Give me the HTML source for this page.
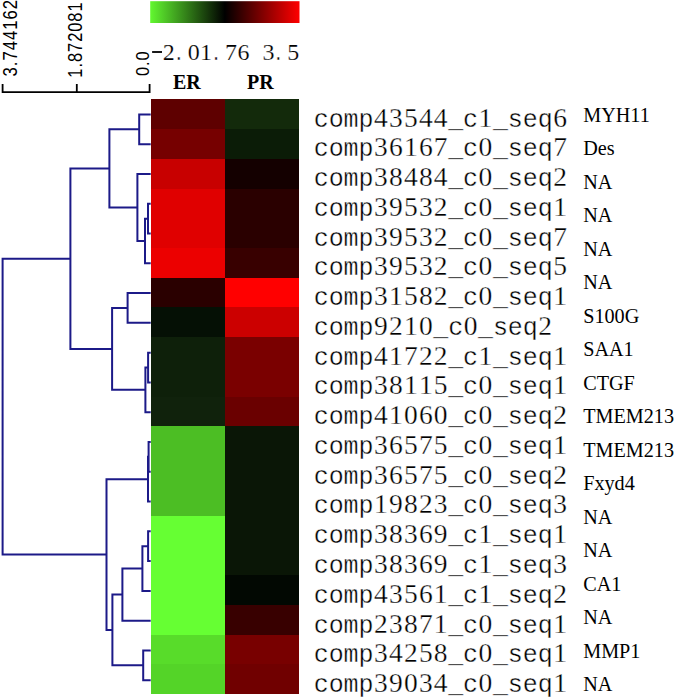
<!DOCTYPE html>
<html><head><meta charset="utf-8"><style>
html,body{margin:0;padding:0;background:#fff;}
svg{display:block;}
.mt{font-family:"Liberation Mono",monospace;font-size:25.0px;fill:#000;stroke:#fff;stroke-width:0.35px;}
.dt{font-family:"Liberation Serif",serif;font-size:27.5px;fill:#000;stroke:#fff;stroke-width:0.3px;}
.lm{font-family:"Liberation Mono",monospace;font-size:20.2px;fill:#000;stroke:#fff;stroke-width:0.5px;}
.ld{font-family:"Liberation Serif",serif;font-size:24px;fill:#000;stroke:#fff;stroke-width:0.2px;}
.g{font-family:"Liberation Serif",serif;font-size:20.2px;fill:#000;}
.h{font-family:"Liberation Serif",serif;font-size:20px;font-weight:bold;fill:#000;}
.z{font-family:"Liberation Serif",serif;font-size:19.3px;fill:#000;stroke:#fff;stroke-width:0.3px;}
.s{font-family:"Liberation Sans",sans-serif;font-size:17px;letter-spacing:1px;fill:#000;}
</style></head><body>
<svg width="675" height="699" viewBox="0 0 675 699">
<defs><linearGradient id="cb" x1="0" x2="1" y1="0" y2="0">
<stop offset="0" stop-color="#62f830"/><stop offset="0.5" stop-color="#000"/><stop offset="1" stop-color="#ff0000"/>
</linearGradient></defs>
<rect x="150.2" y="1.2" width="149.3" height="21.8" fill="url(#cb)"/>
<text y="59.80"><tspan class="lm" x="147.76"></tspan><tspan class="ld" x="162.77">2</tspan><tspan class="lm" x="172.66">.</tspan><tspan class="ld" x="187.67">0</tspan><tspan class="ld" x="200.12">1</tspan><tspan class="lm" x="210.01">.</tspan><tspan class="ld" x="225.02">7</tspan><tspan class="ld" x="237.47">6</tspan><tspan class="ld" x="262.38">3</tspan><tspan class="lm" x="272.27">.</tspan><tspan class="ld" x="287.27">5</tspan></text>
<text class="h" x="173" y="88.8">ER</text>
<text class="h" x="247" y="88.8">PR</text>
<path d="M2.6,84V92.1H149.6V84M76.8,84V92.1" fill="none" stroke="#000" stroke-width="1.8"/>
<text class="s" transform="translate(17,76.5) rotate(-90) scale(0.984,1.15)">3.744162</text>
<text class="s" transform="translate(82.4,77.7) rotate(-90) scale(0.967,1.15)">1.872081</text>
<text class="s" transform="translate(148.8,76) rotate(-90) scale(0.96,1.1)">0.0</text>
<rect x="152.1" y="51.1" width="9.9" height="1.8" fill="#000"/>
<g shape-rendering="crispEdges"><rect x="150.7" y="99.30" width="148.60" height="30.73" fill="#5e0000"/><rect x="150.7" y="129.03" width="148.60" height="30.73" fill="#760000"/><rect x="150.7" y="158.77" width="148.60" height="30.73" fill="#c80000"/><rect x="150.7" y="188.50" width="148.60" height="30.73" fill="#e00000"/><rect x="150.7" y="218.24" width="148.60" height="30.73" fill="#e00000"/><rect x="150.7" y="247.98" width="148.60" height="30.73" fill="#ec0000"/><rect x="150.7" y="277.71" width="148.60" height="30.73" fill="#2a0000"/><rect x="150.7" y="307.44" width="148.60" height="30.73" fill="#051005"/><rect x="150.7" y="337.18" width="148.60" height="30.73" fill="#0e200a"/><rect x="150.7" y="366.92" width="148.60" height="30.73" fill="#0e200a"/><rect x="150.7" y="396.65" width="148.60" height="30.73" fill="#10220c"/><rect x="150.7" y="426.38" width="148.60" height="30.73" fill="#4cbe24"/><rect x="150.7" y="456.12" width="148.60" height="30.73" fill="#4cbe24"/><rect x="150.7" y="485.86" width="148.60" height="30.73" fill="#4cbe24"/><rect x="150.7" y="515.59" width="148.60" height="30.73" fill="#66ff33"/><rect x="150.7" y="545.32" width="148.60" height="30.73" fill="#66ff33"/><rect x="150.7" y="575.06" width="148.60" height="30.73" fill="#66ff33"/><rect x="150.7" y="604.79" width="148.60" height="30.73" fill="#66ff33"/><rect x="150.7" y="634.53" width="148.60" height="30.73" fill="#58dc2a"/><rect x="150.7" y="664.26" width="148.60" height="29.73" fill="#54d428"/><rect x="224.6" y="99.30" width="74.70" height="30.73" fill="#132a0b"/><rect x="224.6" y="129.03" width="74.70" height="30.73" fill="#0b1c07"/><rect x="224.6" y="158.77" width="74.70" height="30.73" fill="#140000"/><rect x="224.6" y="188.50" width="74.70" height="30.73" fill="#2a0000"/><rect x="224.6" y="218.24" width="74.70" height="30.73" fill="#2a0000"/><rect x="224.6" y="247.98" width="74.70" height="30.73" fill="#380000"/><rect x="224.6" y="277.71" width="74.70" height="30.73" fill="#ff0000"/><rect x="224.6" y="307.44" width="74.70" height="30.73" fill="#cc0000"/><rect x="224.6" y="337.18" width="74.70" height="30.73" fill="#7a0000"/><rect x="224.6" y="366.92" width="74.70" height="30.73" fill="#7a0000"/><rect x="224.6" y="396.65" width="74.70" height="30.73" fill="#6a0000"/><rect x="224.6" y="426.38" width="74.70" height="30.73" fill="#0a1606"/><rect x="224.6" y="456.12" width="74.70" height="30.73" fill="#0a1606"/><rect x="224.6" y="485.86" width="74.70" height="30.73" fill="#0a1606"/><rect x="224.6" y="515.59" width="74.70" height="30.73" fill="#0a1606"/><rect x="224.6" y="545.32" width="74.70" height="30.73" fill="#0a1606"/><rect x="224.6" y="575.06" width="74.70" height="30.73" fill="#020802"/><rect x="224.6" y="604.79" width="74.70" height="30.73" fill="#380000"/><rect x="224.6" y="634.53" width="74.70" height="30.73" fill="#780000"/><rect x="224.6" y="664.26" width="74.70" height="29.73" fill="#700000"/></g>
<path d="M150.70,114.40H139.20V144.18H150.70M150.70,203.74H148.00V233.52H150.70M148.00,218.63H145.00V263.30H150.70M150.70,173.96H137.40V240.97H145.00M139.20,129.29H109.40V207.46H137.40M150.70,293.08H127.60V322.86H150.70M150.70,352.64H148.10V382.42H150.70M148.10,367.53H145.40V412.20H150.70M127.60,307.97H112.10V389.87H145.40M109.40,168.38H70.40V348.92H112.10M150.70,441.98H148.60V471.76H150.70M148.60,456.87H148.00V501.54H150.70M150.70,531.32H148.10V561.10H150.70M148.10,546.21H142.40V590.88H150.70M142.40,568.55H122.40V620.66H150.70M150.70,650.44H143.20V680.22H150.70M122.40,594.60H112.40V665.33H143.20M148.00,479.20H106.50V629.97H112.40M70.40,258.65H2.60V554.59H106.50" fill="none" stroke="#1c1a88" stroke-width="2"/>
<text y="126.60"><tspan class="mt" x="313.76">c</tspan><tspan class="mt" x="328.69">o</tspan><tspan class="mt" x="343.62">m</tspan><tspan class="mt" x="358.56">p</tspan><tspan class="dt" x="374.11">4</tspan><tspan class="dt" x="389.04">3</tspan><tspan class="dt" x="403.97">5</tspan><tspan class="dt" x="418.90">4</tspan><tspan class="dt" x="433.83">4</tspan><tspan class="mt" x="448.13">_</tspan><tspan class="mt" x="463.06">c</tspan><tspan class="dt" x="478.62">1</tspan><tspan class="mt" x="492.93">_</tspan><tspan class="mt" x="507.85">s</tspan><tspan class="mt" x="522.78">e</tspan><tspan class="mt" x="537.72">q</tspan><tspan class="dt" x="553.27">6</tspan></text><text y="156.36"><tspan class="mt" x="313.76">c</tspan><tspan class="mt" x="328.69">o</tspan><tspan class="mt" x="343.62">m</tspan><tspan class="mt" x="358.56">p</tspan><tspan class="dt" x="374.11">3</tspan><tspan class="dt" x="389.04">6</tspan><tspan class="dt" x="403.97">1</tspan><tspan class="dt" x="418.90">6</tspan><tspan class="dt" x="433.83">7</tspan><tspan class="mt" x="448.13">_</tspan><tspan class="mt" x="463.06">c</tspan><tspan class="dt" x="478.62">0</tspan><tspan class="mt" x="492.93">_</tspan><tspan class="mt" x="507.85">s</tspan><tspan class="mt" x="522.78">e</tspan><tspan class="mt" x="537.72">q</tspan><tspan class="dt" x="553.27">7</tspan></text><text y="186.12"><tspan class="mt" x="313.76">c</tspan><tspan class="mt" x="328.69">o</tspan><tspan class="mt" x="343.62">m</tspan><tspan class="mt" x="358.56">p</tspan><tspan class="dt" x="374.11">3</tspan><tspan class="dt" x="389.04">8</tspan><tspan class="dt" x="403.97">4</tspan><tspan class="dt" x="418.90">8</tspan><tspan class="dt" x="433.83">4</tspan><tspan class="mt" x="448.13">_</tspan><tspan class="mt" x="463.06">c</tspan><tspan class="dt" x="478.62">0</tspan><tspan class="mt" x="492.93">_</tspan><tspan class="mt" x="507.85">s</tspan><tspan class="mt" x="522.78">e</tspan><tspan class="mt" x="537.72">q</tspan><tspan class="dt" x="553.27">2</tspan></text><text y="215.88"><tspan class="mt" x="313.76">c</tspan><tspan class="mt" x="328.69">o</tspan><tspan class="mt" x="343.62">m</tspan><tspan class="mt" x="358.56">p</tspan><tspan class="dt" x="374.11">3</tspan><tspan class="dt" x="389.04">9</tspan><tspan class="dt" x="403.97">5</tspan><tspan class="dt" x="418.90">3</tspan><tspan class="dt" x="433.83">2</tspan><tspan class="mt" x="448.13">_</tspan><tspan class="mt" x="463.06">c</tspan><tspan class="dt" x="478.62">0</tspan><tspan class="mt" x="492.93">_</tspan><tspan class="mt" x="507.85">s</tspan><tspan class="mt" x="522.78">e</tspan><tspan class="mt" x="537.72">q</tspan><tspan class="dt" x="553.27">1</tspan></text><text y="245.64"><tspan class="mt" x="313.76">c</tspan><tspan class="mt" x="328.69">o</tspan><tspan class="mt" x="343.62">m</tspan><tspan class="mt" x="358.56">p</tspan><tspan class="dt" x="374.11">3</tspan><tspan class="dt" x="389.04">9</tspan><tspan class="dt" x="403.97">5</tspan><tspan class="dt" x="418.90">3</tspan><tspan class="dt" x="433.83">2</tspan><tspan class="mt" x="448.13">_</tspan><tspan class="mt" x="463.06">c</tspan><tspan class="dt" x="478.62">0</tspan><tspan class="mt" x="492.93">_</tspan><tspan class="mt" x="507.85">s</tspan><tspan class="mt" x="522.78">e</tspan><tspan class="mt" x="537.72">q</tspan><tspan class="dt" x="553.27">7</tspan></text><text y="275.40"><tspan class="mt" x="313.76">c</tspan><tspan class="mt" x="328.69">o</tspan><tspan class="mt" x="343.62">m</tspan><tspan class="mt" x="358.56">p</tspan><tspan class="dt" x="374.11">3</tspan><tspan class="dt" x="389.04">9</tspan><tspan class="dt" x="403.97">5</tspan><tspan class="dt" x="418.90">3</tspan><tspan class="dt" x="433.83">2</tspan><tspan class="mt" x="448.13">_</tspan><tspan class="mt" x="463.06">c</tspan><tspan class="dt" x="478.62">0</tspan><tspan class="mt" x="492.93">_</tspan><tspan class="mt" x="507.85">s</tspan><tspan class="mt" x="522.78">e</tspan><tspan class="mt" x="537.72">q</tspan><tspan class="dt" x="553.27">5</tspan></text><text y="305.16"><tspan class="mt" x="313.76">c</tspan><tspan class="mt" x="328.69">o</tspan><tspan class="mt" x="343.62">m</tspan><tspan class="mt" x="358.56">p</tspan><tspan class="dt" x="374.11">3</tspan><tspan class="dt" x="389.04">1</tspan><tspan class="dt" x="403.97">5</tspan><tspan class="dt" x="418.90">8</tspan><tspan class="dt" x="433.83">2</tspan><tspan class="mt" x="448.13">_</tspan><tspan class="mt" x="463.06">c</tspan><tspan class="dt" x="478.62">0</tspan><tspan class="mt" x="492.93">_</tspan><tspan class="mt" x="507.85">s</tspan><tspan class="mt" x="522.78">e</tspan><tspan class="mt" x="537.72">q</tspan><tspan class="dt" x="553.27">1</tspan></text><text y="334.92"><tspan class="mt" x="313.76">c</tspan><tspan class="mt" x="328.69">o</tspan><tspan class="mt" x="343.62">m</tspan><tspan class="mt" x="358.56">p</tspan><tspan class="dt" x="374.11">9</tspan><tspan class="dt" x="389.04">2</tspan><tspan class="dt" x="403.97">1</tspan><tspan class="dt" x="418.90">0</tspan><tspan class="mt" x="433.20">_</tspan><tspan class="mt" x="448.13">c</tspan><tspan class="dt" x="463.69">0</tspan><tspan class="mt" x="477.99">_</tspan><tspan class="mt" x="492.93">s</tspan><tspan class="mt" x="507.85">e</tspan><tspan class="mt" x="522.78">q</tspan><tspan class="dt" x="538.34">2</tspan></text><text y="364.68"><tspan class="mt" x="313.76">c</tspan><tspan class="mt" x="328.69">o</tspan><tspan class="mt" x="343.62">m</tspan><tspan class="mt" x="358.56">p</tspan><tspan class="dt" x="374.11">4</tspan><tspan class="dt" x="389.04">1</tspan><tspan class="dt" x="403.97">7</tspan><tspan class="dt" x="418.90">2</tspan><tspan class="dt" x="433.83">2</tspan><tspan class="mt" x="448.13">_</tspan><tspan class="mt" x="463.06">c</tspan><tspan class="dt" x="478.62">1</tspan><tspan class="mt" x="492.93">_</tspan><tspan class="mt" x="507.85">s</tspan><tspan class="mt" x="522.78">e</tspan><tspan class="mt" x="537.72">q</tspan><tspan class="dt" x="553.27">1</tspan></text><text y="394.44"><tspan class="mt" x="313.76">c</tspan><tspan class="mt" x="328.69">o</tspan><tspan class="mt" x="343.62">m</tspan><tspan class="mt" x="358.56">p</tspan><tspan class="dt" x="374.11">3</tspan><tspan class="dt" x="389.04">8</tspan><tspan class="dt" x="403.97">1</tspan><tspan class="dt" x="418.90">1</tspan><tspan class="dt" x="433.83">5</tspan><tspan class="mt" x="448.13">_</tspan><tspan class="mt" x="463.06">c</tspan><tspan class="dt" x="478.62">0</tspan><tspan class="mt" x="492.93">_</tspan><tspan class="mt" x="507.85">s</tspan><tspan class="mt" x="522.78">e</tspan><tspan class="mt" x="537.72">q</tspan><tspan class="dt" x="553.27">1</tspan></text><text y="424.20"><tspan class="mt" x="313.76">c</tspan><tspan class="mt" x="328.69">o</tspan><tspan class="mt" x="343.62">m</tspan><tspan class="mt" x="358.56">p</tspan><tspan class="dt" x="374.11">4</tspan><tspan class="dt" x="389.04">1</tspan><tspan class="dt" x="403.97">0</tspan><tspan class="dt" x="418.90">6</tspan><tspan class="dt" x="433.83">0</tspan><tspan class="mt" x="448.13">_</tspan><tspan class="mt" x="463.06">c</tspan><tspan class="dt" x="478.62">0</tspan><tspan class="mt" x="492.93">_</tspan><tspan class="mt" x="507.85">s</tspan><tspan class="mt" x="522.78">e</tspan><tspan class="mt" x="537.72">q</tspan><tspan class="dt" x="553.27">2</tspan></text><text y="453.96"><tspan class="mt" x="313.76">c</tspan><tspan class="mt" x="328.69">o</tspan><tspan class="mt" x="343.62">m</tspan><tspan class="mt" x="358.56">p</tspan><tspan class="dt" x="374.11">3</tspan><tspan class="dt" x="389.04">6</tspan><tspan class="dt" x="403.97">5</tspan><tspan class="dt" x="418.90">7</tspan><tspan class="dt" x="433.83">5</tspan><tspan class="mt" x="448.13">_</tspan><tspan class="mt" x="463.06">c</tspan><tspan class="dt" x="478.62">0</tspan><tspan class="mt" x="492.93">_</tspan><tspan class="mt" x="507.85">s</tspan><tspan class="mt" x="522.78">e</tspan><tspan class="mt" x="537.72">q</tspan><tspan class="dt" x="553.27">1</tspan></text><text y="483.72"><tspan class="mt" x="313.76">c</tspan><tspan class="mt" x="328.69">o</tspan><tspan class="mt" x="343.62">m</tspan><tspan class="mt" x="358.56">p</tspan><tspan class="dt" x="374.11">3</tspan><tspan class="dt" x="389.04">6</tspan><tspan class="dt" x="403.97">5</tspan><tspan class="dt" x="418.90">7</tspan><tspan class="dt" x="433.83">5</tspan><tspan class="mt" x="448.13">_</tspan><tspan class="mt" x="463.06">c</tspan><tspan class="dt" x="478.62">0</tspan><tspan class="mt" x="492.93">_</tspan><tspan class="mt" x="507.85">s</tspan><tspan class="mt" x="522.78">e</tspan><tspan class="mt" x="537.72">q</tspan><tspan class="dt" x="553.27">2</tspan></text><text y="513.48"><tspan class="mt" x="313.76">c</tspan><tspan class="mt" x="328.69">o</tspan><tspan class="mt" x="343.62">m</tspan><tspan class="mt" x="358.56">p</tspan><tspan class="dt" x="374.11">1</tspan><tspan class="dt" x="389.04">9</tspan><tspan class="dt" x="403.97">8</tspan><tspan class="dt" x="418.90">2</tspan><tspan class="dt" x="433.83">3</tspan><tspan class="mt" x="448.13">_</tspan><tspan class="mt" x="463.06">c</tspan><tspan class="dt" x="478.62">0</tspan><tspan class="mt" x="492.93">_</tspan><tspan class="mt" x="507.85">s</tspan><tspan class="mt" x="522.78">e</tspan><tspan class="mt" x="537.72">q</tspan><tspan class="dt" x="553.27">3</tspan></text><text y="543.24"><tspan class="mt" x="313.76">c</tspan><tspan class="mt" x="328.69">o</tspan><tspan class="mt" x="343.62">m</tspan><tspan class="mt" x="358.56">p</tspan><tspan class="dt" x="374.11">3</tspan><tspan class="dt" x="389.04">8</tspan><tspan class="dt" x="403.97">3</tspan><tspan class="dt" x="418.90">6</tspan><tspan class="dt" x="433.83">9</tspan><tspan class="mt" x="448.13">_</tspan><tspan class="mt" x="463.06">c</tspan><tspan class="dt" x="478.62">1</tspan><tspan class="mt" x="492.93">_</tspan><tspan class="mt" x="507.85">s</tspan><tspan class="mt" x="522.78">e</tspan><tspan class="mt" x="537.72">q</tspan><tspan class="dt" x="553.27">1</tspan></text><text y="573.00"><tspan class="mt" x="313.76">c</tspan><tspan class="mt" x="328.69">o</tspan><tspan class="mt" x="343.62">m</tspan><tspan class="mt" x="358.56">p</tspan><tspan class="dt" x="374.11">3</tspan><tspan class="dt" x="389.04">8</tspan><tspan class="dt" x="403.97">3</tspan><tspan class="dt" x="418.90">6</tspan><tspan class="dt" x="433.83">9</tspan><tspan class="mt" x="448.13">_</tspan><tspan class="mt" x="463.06">c</tspan><tspan class="dt" x="478.62">1</tspan><tspan class="mt" x="492.93">_</tspan><tspan class="mt" x="507.85">s</tspan><tspan class="mt" x="522.78">e</tspan><tspan class="mt" x="537.72">q</tspan><tspan class="dt" x="553.27">3</tspan></text><text y="602.76"><tspan class="mt" x="313.76">c</tspan><tspan class="mt" x="328.69">o</tspan><tspan class="mt" x="343.62">m</tspan><tspan class="mt" x="358.56">p</tspan><tspan class="dt" x="374.11">4</tspan><tspan class="dt" x="389.04">3</tspan><tspan class="dt" x="403.97">5</tspan><tspan class="dt" x="418.90">6</tspan><tspan class="dt" x="433.83">1</tspan><tspan class="mt" x="448.13">_</tspan><tspan class="mt" x="463.06">c</tspan><tspan class="dt" x="478.62">1</tspan><tspan class="mt" x="492.93">_</tspan><tspan class="mt" x="507.85">s</tspan><tspan class="mt" x="522.78">e</tspan><tspan class="mt" x="537.72">q</tspan><tspan class="dt" x="553.27">2</tspan></text><text y="632.52"><tspan class="mt" x="313.76">c</tspan><tspan class="mt" x="328.69">o</tspan><tspan class="mt" x="343.62">m</tspan><tspan class="mt" x="358.56">p</tspan><tspan class="dt" x="374.11">2</tspan><tspan class="dt" x="389.04">3</tspan><tspan class="dt" x="403.97">8</tspan><tspan class="dt" x="418.90">7</tspan><tspan class="dt" x="433.83">1</tspan><tspan class="mt" x="448.13">_</tspan><tspan class="mt" x="463.06">c</tspan><tspan class="dt" x="478.62">0</tspan><tspan class="mt" x="492.93">_</tspan><tspan class="mt" x="507.85">s</tspan><tspan class="mt" x="522.78">e</tspan><tspan class="mt" x="537.72">q</tspan><tspan class="dt" x="553.27">1</tspan></text><text y="662.28"><tspan class="mt" x="313.76">c</tspan><tspan class="mt" x="328.69">o</tspan><tspan class="mt" x="343.62">m</tspan><tspan class="mt" x="358.56">p</tspan><tspan class="dt" x="374.11">3</tspan><tspan class="dt" x="389.04">4</tspan><tspan class="dt" x="403.97">2</tspan><tspan class="dt" x="418.90">5</tspan><tspan class="dt" x="433.83">8</tspan><tspan class="mt" x="448.13">_</tspan><tspan class="mt" x="463.06">c</tspan><tspan class="dt" x="478.62">0</tspan><tspan class="mt" x="492.93">_</tspan><tspan class="mt" x="507.85">s</tspan><tspan class="mt" x="522.78">e</tspan><tspan class="mt" x="537.72">q</tspan><tspan class="dt" x="553.27">1</tspan></text><text y="692.04"><tspan class="mt" x="313.76">c</tspan><tspan class="mt" x="328.69">o</tspan><tspan class="mt" x="343.62">m</tspan><tspan class="mt" x="358.56">p</tspan><tspan class="dt" x="374.11">3</tspan><tspan class="dt" x="389.04">9</tspan><tspan class="dt" x="403.97">0</tspan><tspan class="dt" x="418.90">3</tspan><tspan class="dt" x="433.83">4</tspan><tspan class="mt" x="448.13">_</tspan><tspan class="mt" x="463.06">c</tspan><tspan class="dt" x="478.62">0</tspan><tspan class="mt" x="492.93">_</tspan><tspan class="mt" x="507.85">s</tspan><tspan class="mt" x="522.78">e</tspan><tspan class="mt" x="537.72">q</tspan><tspan class="dt" x="553.27">1</tspan></text>
<text x="583.2" y="121.90" class="g">MYH11</text><text x="583.2" y="155.38" class="g">Des</text><text x="583.2" y="188.86" class="g">NA</text><text x="583.2" y="222.34" class="g">NA</text><text x="583.2" y="255.82" class="g">NA</text><text x="583.2" y="289.30" class="g">NA</text><text x="583.2" y="322.78" class="g">S100G</text><text x="583.2" y="356.26" class="g">SAA1</text><text x="583.2" y="389.74" class="g">CTGF</text><text x="583.2" y="423.22" class="g">TMEM213</text><text x="583.2" y="456.70" class="g">TMEM213</text><text x="583.2" y="490.18" class="g">Fxyd4</text><text x="583.2" y="523.66" class="g">NA</text><text x="583.2" y="557.14" class="g">NA</text><text x="583.2" y="590.62" class="g">CA1</text><text x="583.2" y="624.10" class="g">NA</text><text x="583.2" y="657.58" class="g">MMP1</text><text x="583.2" y="691.06" class="g">NA</text>
</svg>
</body></html>
